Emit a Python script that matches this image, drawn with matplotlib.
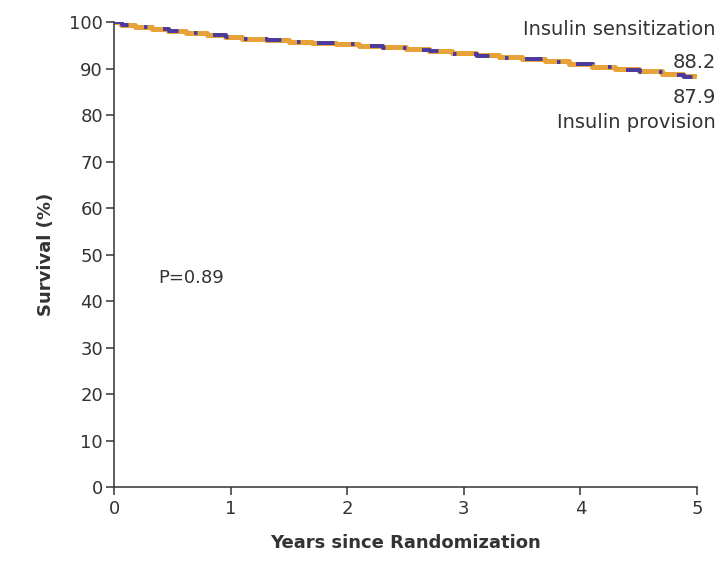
import matplotlib
matplotlib.use('Agg')
import matplotlib.pyplot as plt

# Kaplan-Meier style step data
sens_years = [0, 0.06, 0.18, 0.32, 0.46, 0.62, 0.8, 0.95, 1.1, 1.3, 1.5, 1.7, 1.9,
              2.1, 2.3, 2.5, 2.7, 2.9, 3.1, 3.3, 3.5, 3.7, 3.9, 4.1, 4.3, 4.5,
              4.7, 4.88, 5.0]
sens_surv = [100, 99.5, 99.0, 98.5, 98.0, 97.6, 97.2, 96.8, 96.4, 96.1, 95.8, 95.5,
             95.2, 94.9, 94.6, 94.2, 93.8, 93.3, 92.9, 92.5, 92.1, 91.6, 91.0,
             90.4, 89.9, 89.4, 88.9, 88.5, 88.2]

prov_years = [0, 0.07, 0.19, 0.33, 0.47, 0.63, 0.81, 0.96, 1.11, 1.31, 1.51, 1.71,
              1.91, 2.11, 2.31, 2.51, 2.71, 2.91, 3.11, 3.31, 3.51, 3.71, 3.91,
              4.11, 4.31, 4.51, 4.71, 4.89, 5.0]
prov_surv = [100, 99.5, 99.0, 98.5, 98.0, 97.6, 97.2, 96.8, 96.4, 96.1, 95.8, 95.5,
             95.2, 94.9, 94.5, 94.1, 93.7, 93.2, 92.8, 92.4, 92.0, 91.5, 90.9,
             90.3, 89.8, 89.2, 88.7, 88.3, 87.9]

x_ticks = [0, 1, 2, 3, 4, 5]
y_ticks = list(range(0, 101, 10))

text_col = '#333333'
orange = '#E8A23A'
purple = '#4A3AA0'

fig = plt.figure(figsize=(7.23, 5.76), dpi=100)
ax = fig.add_axes([0.158, 0.1545, 0.806, 0.807])

ax.step(sens_years, sens_surv, where='post', color=orange, linewidth=3.6,
        solid_capstyle='butt', zorder=2)
ax.step(prov_years, prov_surv, where='post', color=purple, linewidth=2.8,
        dashes=(4.5, 4.5, 0.9, 4.5), zorder=3)

ax.set_xlim(0, 5)
ax.set_ylim(0, 100)
ax.set_xticks(x_ticks)
ax.set_yticks(y_ticks)
ax.spines['top'].set_visible(False)
ax.spines['right'].set_visible(False)
for s in ['left', 'bottom']:
    ax.spines[s].set_color(text_col)
    ax.spines[s].set_linewidth(1.1)
ax.tick_params(colors=text_col, labelsize=13, length=6, width=1.1)
ax.tick_params(axis='y', pad=2)
ax.tick_params(axis='x', pad=3)

ax.set_ylabel('Survival (%)', fontsize=13, fontweight='bold', color=text_col,
              labelpad=10)
ax.set_xlabel('Years since Randomization', fontsize=13, fontweight='bold',
              color=text_col, labelpad=12)

tkw = dict(ha='right', fontsize=14, color=text_col, transform=ax.transData,
           clip_on=False)
ax.text(5.16, 98.5, 'Insulin sensitization', va='center', **tkw)
ax.text(5.16, 91.3, '88.2', va='center', **tkw)
ax.text(5.16, 83.7, '87.9', va='center', **tkw)
ax.text(5.16, 78.4, 'Insulin provision', va='center', **tkw)

ax.text(0.38, 45, 'P=0.89', fontsize=13, color=text_col, va='center')

fig.savefig('out.png', dpi=100)
